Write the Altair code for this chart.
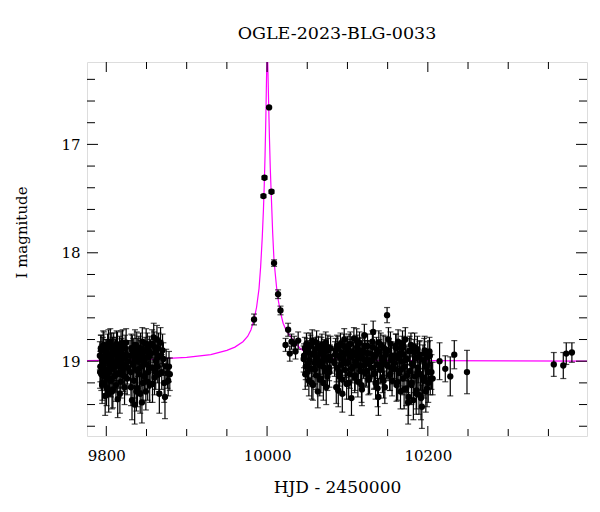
import altair as alt
import pandas as pd

FONT = "DejaVu Serif"

# ---------------- photometry ----------------
# season 2023a baseline
s1_t = [9792.0, 9792.6, 9793.2, 9793.8, 9794.5, 9795.1, 9795.8, 9796.4, 9797.0, 9797.7,
        9798.3, 9799.0, 9799.6, 9800.3, 9801.0, 9801.7, 9802.4, 9803.0, 9803.7, 9804.4,
        9805.0, 9805.7, 9806.4, 9807.1, 9807.8, 9808.5, 9809.2, 9809.9, 9810.6, 9811.3,
        9812.0, 9812.8, 9813.5, 9814.2, 9815.0, 9815.7, 9816.5, 9817.2, 9818.0, 9818.8,
        9819.5, 9820.3, 9821.1, 9821.9, 9822.7, 9823.5, 9824.3, 9825.1, 9825.9, 9826.7,
        9829.5, 9830.3, 9831.1, 9832.0, 9832.8, 9833.6, 9834.5, 9835.3, 9836.2, 9837.0,
        9837.9, 9838.8, 9839.6, 9840.5, 9841.3, 9842.2, 9843.0, 9843.9, 9844.8, 9845.7,
        9846.5, 9847.4, 9848.3, 9849.2, 9850.0, 9851.0, 9852.0, 9853.0, 9854.0, 9855.0,
        9857.0, 9858.0, 9859.0, 9860.0, 9861.0, 9862.0, 9863.0, 9864.0, 9865.0, 9866.0,
        9867.0, 9869.0, 9871.0, 9873.0, 9876.0, 9877.0, 9878.0]
s1_m = [18.95, 19.05, 18.88, 19.12, 18.98, 19.20, 18.90, 19.02, 18.85, 19.08,
        18.97, 19.15, 18.92, 19.25, 19.00, 18.87, 19.10, 19.30, 18.95, 19.05,
        18.82, 19.18, 18.99, 19.28, 18.90, 19.07, 18.86, 19.14, 19.02, 18.93,
        19.22, 18.84, 19.04, 19.35, 18.96, 19.11, 18.89, 19.01, 19.19, 18.91,
        19.06, 18.83, 19.13, 18.97, 19.24, 18.88, 19.03, 18.94, 19.16, 19.00,
        18.95, 19.10, 18.88, 19.36, 19.02, 18.92, 19.18, 19.40, 18.97, 19.08,
        18.86, 19.25, 19.00, 18.90, 19.12, 19.30, 18.95, 19.05, 18.82, 19.20,
        18.99, 19.14, 18.91, 19.28, 19.03, 18.87, 19.10, 18.96, 19.22, 18.93,
        18.84, 19.06, 18.78, 19.15, 18.92, 19.00, 18.80, 19.05, 18.88, 19.30,
        18.95, 19.10, 18.98, 19.33, 19.11, 19.18, 19.05]
s1_e = [0.13, 0.14, 0.12, 0.15, 0.13, 0.16, 0.12, 0.13, 0.12, 0.14,
        0.13, 0.15, 0.12, 0.16, 0.13, 0.12, 0.14, 0.17, 0.13, 0.14,
        0.12, 0.15, 0.13, 0.16, 0.12, 0.14, 0.12, 0.15, 0.13, 0.13,
        0.15, 0.12, 0.14, 0.17, 0.13, 0.14, 0.12, 0.13, 0.15, 0.12,
        0.14, 0.12, 0.15, 0.13, 0.16, 0.12, 0.13, 0.13, 0.15, 0.13,
        0.14, 0.15, 0.13, 0.18, 0.14, 0.13, 0.16, 0.18, 0.14, 0.15,
        0.13, 0.17, 0.14, 0.13, 0.15, 0.18, 0.14, 0.15, 0.13, 0.16,
        0.14, 0.15, 0.13, 0.17, 0.14, 0.13, 0.15, 0.14, 0.16, 0.13,
        0.13, 0.15, 0.13, 0.16, 0.14, 0.15, 0.13, 0.15, 0.14, 0.18,
        0.14, 0.16, 0.15, 0.20, 0.14, 0.14, 0.14]
s1b_t = [9792.3, 9793.5, 9794.8, 9796.1, 9797.4, 9798.6, 9799.9, 9801.3, 9802.7, 9804.1,
         9805.4, 9806.8, 9808.2, 9809.6, 9810.9, 9812.4, 9813.9, 9815.3, 9816.9, 9818.4,
         9819.9, 9821.5, 9823.1, 9824.7, 9826.3, 9830.7, 9832.4, 9834.0, 9835.7, 9837.4,
         9839.2, 9840.9, 9842.6, 9844.3, 9846.1, 9847.9, 9849.6, 9851.5, 9853.5, 9855.5,
         9857.5, 9859.5, 9861.5, 9863.5, 9865.5, 9867.5, 9870.0, 9872.0, 9874.5, 9879.0]
s1b_m = [19.10, 18.90, 19.22, 18.86, 19.00, 19.32, 18.94, 19.08, 18.84, 19.16,
         18.96, 18.88, 19.26, 19.03, 18.92, 19.12, 18.87, 18.99, 19.30, 18.85,
         19.09, 18.95, 19.14, 18.83, 19.06, 19.24, 18.90, 19.04, 18.85, 19.28,
         18.93, 19.07, 18.88, 19.38, 18.96, 19.02, 18.84, 19.19, 18.91, 19.06,
         19.21, 18.87, 19.10, 18.97, 19.12, 18.83, 18.90, 19.20, 19.05, 19.12]
s1b_e = [0.15, 0.14, 0.17, 0.14, 0.15, 0.18, 0.14, 0.15, 0.13, 0.16,
         0.15, 0.14, 0.17, 0.15, 0.14, 0.16, 0.14, 0.15, 0.18, 0.13,
         0.15, 0.14, 0.16, 0.13, 0.15, 0.17, 0.14, 0.15, 0.14, 0.18,
         0.14, 0.16, 0.14, 0.19, 0.15, 0.15, 0.14, 0.17, 0.14, 0.15,
         0.17, 0.14, 0.16, 0.15, 0.16, 0.14, 0.15, 0.18, 0.16, 0.15]

# event peak and decline
pk_t = [9983.8, 9995.5, 9996.8, 10002.5, 10005.5, 10008.7, 10013.7, 10016.7, 10023.0,
        10026.2, 10028.3, 10030.4, 10033.7, 10035.4, 10038.7]
pk_m = [18.615, 17.477, 17.308, 16.659, 17.437, 18.095, 18.382, 18.532, 18.85,
        18.71, 18.93, 18.82, 18.84, 18.91, 18.81]
pk_e = [0.05, 0.015, 0.015, 0.01, 0.015, 0.03, 0.04, 0.04, 0.06,
        0.06, 0.07, 0.07, 0.07, 0.07, 0.08]

# season 2023b baseline
s2_t = [10046.0, 10047.0, 10048.1, 10049.0, 10050.2, 10051.1, 10052.0, 10053.2, 10054.1, 10055.0,
        10056.2, 10057.1, 10058.0, 10059.2, 10060.1, 10061.0, 10062.2, 10063.1, 10064.0, 10065.2,
        10066.1, 10067.0, 10068.2, 10069.1, 10070.0, 10071.2, 10072.1, 10073.0, 10074.2, 10075.1,
        10076.0, 10077.2, 10078.1, 10079.0,
        10084.0, 10085.2, 10086.1, 10087.0, 10088.6, 10089.5, 10090.4, 10091.3, 10092.2, 10093.1,
        10094.0, 10095.0, 10096.0, 10097.0, 10098.0, 10099.0, 10100.0, 10101.0, 10102.0, 10103.0,
        10104.0, 10105.0, 10106.0, 10107.0, 10108.0, 10109.0, 10110.0, 10111.0, 10112.0, 10113.0,
        10114.0, 10115.0, 10116.0, 10117.0, 10118.0, 10119.0, 10120.0, 10121.0, 10122.0, 10123.0,
        10124.0, 10125.0, 10126.0, 10127.0,
        10129.0, 10130.0, 10131.0, 10132.0, 10133.0, 10134.0, 10135.0, 10136.0, 10137.0, 10138.5,
        10139.5, 10140.5, 10141.5, 10142.5, 10143.5, 10144.5, 10145.5, 10146.5, 10147.5, 10149.3,
        10150.5, 10151.5, 10152.5, 10153.5, 10154.5, 10155.5,
        10158.0, 10159.0, 10160.0, 10161.0, 10162.0, 10163.0, 10164.0, 10165.0, 10166.0, 10167.0,
        10168.0, 10169.0, 10170.0, 10171.0, 10172.0, 10173.0, 10174.0, 10176.0, 10177.0, 10178.0,
        10179.0, 10180.0, 10181.0, 10182.0, 10183.0, 10184.0, 10185.0, 10186.0, 10187.0, 10188.0,
        10189.0, 10190.0, 10191.0, 10192.6, 10194.0, 10195.0, 10196.0, 10197.0, 10199.0, 10200.0,
        10201.0, 10202.0, 10203.0, 10206.0,
        10214.6, 10221.7, 10227.9, 10232.9, 10248.7]
s2_m = [18.95, 18.88, 19.05, 18.84, 19.10, 18.92, 19.18, 18.99, 18.86, 19.07,
        18.81, 19.22, 18.94, 19.02, 18.89, 19.13, 18.97, 19.28, 18.87, 19.04,
        18.93, 19.16, 18.85, 19.00, 19.20, 18.91, 19.09, 18.83, 18.98, 19.14,
        18.90, 19.06, 18.96, 18.88,
        19.02, 18.90, 19.24, 18.86, 19.27, 18.95, 19.10, 18.84, 19.03, 18.92,
        19.17, 18.98, 18.80, 19.08, 18.93, 19.21, 18.88, 19.01, 18.85, 19.12,
        18.96, 19.34, 18.91, 19.05, 18.79, 19.15, 18.94, 19.00, 18.87, 19.19,
        18.97, 18.83, 19.09, 18.95, 19.26, 18.90, 19.04, 18.76, 19.11, 18.92,
        19.02, 18.86, 19.17, 18.99,
        18.93, 19.06, 18.82, 18.73, 19.12, 18.96, 19.20, 18.89, 19.03, 19.33,
        18.91, 19.08, 18.85, 18.98, 19.15, 18.87, 19.01, 19.24, 18.94, 18.575,
        19.05, 18.90, 19.13, 18.84, 18.99, 19.18,
        18.95, 19.07, 18.86, 19.22, 18.97, 18.82, 19.11, 18.93, 19.28, 19.00,
        18.88, 19.16, 18.94, 19.05, 18.80, 19.25, 18.98, 19.33, 18.91, 19.09,
        18.85, 19.20, 19.02, 19.36, 18.92, 19.14, 18.97, 19.27, 18.89, 19.06,
        19.31, 18.94, 19.12, 19.42, 18.99, 19.18, 18.90, 19.05, 19.25, 18.96,
        19.10, 18.91, 19.16, 19.16,
        19.00, 19.07, 19.14, 18.94, 19.10]
s2_e = [0.11, 0.10, 0.12, 0.10, 0.13, 0.11, 0.14, 0.12, 0.10, 0.12,
        0.10, 0.14, 0.11, 0.12, 0.11, 0.13, 0.11, 0.15, 0.10, 0.12,
        0.11, 0.13, 0.10, 0.12, 0.16, 0.11, 0.13, 0.10, 0.12, 0.13,
        0.11, 0.12, 0.11, 0.11,
        0.12, 0.11, 0.15, 0.10, 0.15, 0.11, 0.13, 0.10, 0.12, 0.11,
        0.14, 0.12, 0.10, 0.13, 0.11, 0.14, 0.11, 0.12, 0.10, 0.13,
        0.11, 0.16, 0.11, 0.12, 0.10, 0.14, 0.11, 0.12, 0.11, 0.14,
        0.12, 0.10, 0.13, 0.11, 0.15, 0.11, 0.12, 0.10, 0.13, 0.11,
        0.12, 0.11, 0.14, 0.12,
        0.11, 0.13, 0.10, 0.10, 0.14, 0.12, 0.15, 0.11, 0.13, 0.17,
        0.11, 0.13, 0.11, 0.12, 0.14, 0.11, 0.12, 0.15, 0.11, 0.07,
        0.13, 0.11, 0.14, 0.11, 0.12, 0.14,
        0.12, 0.13, 0.11, 0.15, 0.12, 0.11, 0.14, 0.12, 0.16, 0.13,
        0.11, 0.15, 0.12, 0.13, 0.11, 0.16, 0.12, 0.17, 0.12, 0.14,
        0.11, 0.16, 0.13, 0.18, 0.12, 0.15, 0.13, 0.17, 0.12, 0.14,
        0.18, 0.13, 0.15, 0.20, 0.14, 0.16, 0.13, 0.15, 0.17, 0.14,
        0.15, 0.13, 0.15, 0.15,
        0.17, 0.12, 0.18, 0.13, 0.20]
s2b_t = [10045.5, 10047.5, 10049.5, 10051.5, 10053.6, 10055.6, 10057.6, 10059.6, 10061.6, 10063.6,
         10065.6, 10067.6, 10069.6, 10071.6, 10073.6, 10075.6, 10077.6, 10079.5,
         10084.6, 10086.6, 10088.0, 10090.0, 10091.8, 10093.6, 10095.5, 10097.5, 10099.5, 10101.5,
         10103.5, 10105.5, 10107.5, 10109.5, 10111.5, 10113.5, 10115.5, 10117.5, 10119.5, 10121.5,
         10123.5, 10125.5, 10127.5,
         10129.5, 10131.5, 10133.5, 10135.5, 10137.5, 10139.0, 10141.0, 10143.0, 10145.0, 10147.0,
         10148.5, 10151.0, 10153.0, 10155.0, 10156.5,
         10158.5, 10160.5, 10162.5, 10164.5, 10166.5, 10168.5, 10170.5, 10172.5, 10174.5, 10175.5,
         10177.5, 10179.5, 10181.5, 10183.5, 10185.5, 10187.5, 10189.5, 10191.5, 10193.5, 10195.5,
         10197.5, 10198.5, 10200.5, 10202.5, 10204.5]
s2b_m = [18.98, 19.12, 18.90, 19.02, 18.85, 19.20, 18.93, 19.08, 18.83, 19.00,
         19.17, 18.89, 19.05, 18.96, 19.24, 18.87, 19.10, 18.99,
         18.94, 19.06, 18.88, 19.14, 18.97, 19.30, 18.86, 19.02, 18.92, 19.20,
         18.84, 19.07, 18.95, 19.13, 18.81, 19.04, 18.90, 19.22, 18.98, 18.86,
         19.09, 18.93, 19.15,
         19.00, 18.87, 19.11, 18.94, 19.25, 18.83, 19.06, 18.97, 19.18, 18.89,
         19.03, 18.80, 19.12, 18.95, 19.07,
         19.02, 18.88, 19.19, 18.94, 19.08, 18.84, 19.26, 18.99, 19.13, 19.38,
         18.90, 19.22, 19.04, 18.87, 19.30, 19.10, 18.96, 19.34, 19.15, 18.93,
         19.28, 19.05, 19.20, 18.95, 19.10]
s2b_e = [0.12, 0.14, 0.11, 0.13, 0.11, 0.15, 0.12, 0.13, 0.11, 0.12,
         0.15, 0.11, 0.13, 0.12, 0.16, 0.11, 0.14, 0.12,
         0.12, 0.13, 0.11, 0.15, 0.12, 0.17, 0.11, 0.13, 0.12, 0.15,
         0.11, 0.13, 0.12, 0.14, 0.11, 0.13, 0.12, 0.16, 0.12, 0.11,
         0.14, 0.12, 0.15,
         0.13, 0.12, 0.14, 0.12, 0.17, 0.11, 0.14, 0.13, 0.16, 0.12,
         0.13, 0.11, 0.15, 0.13, 0.14,
         0.14, 0.13, 0.17, 0.13, 0.15, 0.12, 0.18, 0.14, 0.16, 0.20,
         0.13, 0.18, 0.15, 0.13, 0.19, 0.16, 0.14, 0.20, 0.17, 0.14,
         0.19, 0.15, 0.18, 0.14, 0.16]

# 2024 points
late_t = [10356.7, 10368.5, 10372.2, 10379.2]
late_m = [19.03, 19.04, 18.93, 18.92]
late_e = [0.11, 0.12, 0.10, 0.09]

# model light curve
mod_t = [9776, 9820, 9860, 9900, 9930, 9950, 9960, 9970, 9976, 9980, 9984, 9987, 9990,
         9992, 9994, 9995.5, 9996.5, 9997.5, 9998.5, 9999.3, 10000.3, 10001.3, 10002.2,
         10003, 10004, 10005, 10006, 10007, 10008.5, 10010, 10012, 10014, 10016, 10018,
         10020, 10024, 10028, 10035, 10041, 10050, 10060, 10080, 10120, 10200, 10399]
mod_m = [18.995, 18.99, 18.98, 18.965, 18.94, 18.90, 18.87, 18.82, 18.77, 18.71, 18.61,
         18.50, 18.33, 18.13, 17.86, 17.60, 17.38, 17.10, 16.75, 16.40, 16.05, 16.40, 16.70,
         16.95, 17.22, 17.42, 17.62, 17.82, 18.05, 18.18, 18.33, 18.44, 18.52, 18.59,
         18.65, 18.72, 18.76, 18.83, 18.88, 18.93, 18.95, 18.975, 18.99, 18.995, 19.0]

# axis ticks
x_major = [9800, 10000, 10200]
x_minor = [9850, 9900, 9950, 10050, 10100, 10150, 10250, 10300, 10350]
y_major = [17, 18, 19]
y_minor = [16.4, 16.6, 16.8, 17.2, 17.4, 17.6, 17.8, 18.2, 18.4, 18.6, 18.8,
           19.2, 19.4, 19.6]

# ---------------- chart ----------------
W, H = 500, 374
t_all = s1_t + s1b_t + pk_t + s2_t + s2b_t + late_t
m_all = s1_m + s1b_m + pk_m + s2_m + s2b_m + late_m
e_all = s1_e + s1b_e + pk_e + s2_e + s2b_e + late_e
df = pd.DataFrame({"t": t_all, "m": m_all, "e": e_all})
df["lo"] = df["m"] - df["e"]
df["hi"] = df["m"] + df["e"]
model = pd.DataFrame({"t": mod_t, "m": mod_m})

xs = alt.Scale(domain=[9776, 10398], nice=False, zero=False)
ys = alt.Scale(domain=[16.24, 19.69], nice=False, zero=False, reverse=True)

xaxis = alt.Axis(values=x_major, format="d", ticks=False, tickSize=0, domain=False,
                 grid=False, labelFont=FONT, labelFontSize=15, labelColor="black",
                 labelPadding=12, labelFlush=False, title="HJD - 2450000",
                 titleFont=FONT, titleFontSize=17, titleFontWeight="normal",
                 titleColor="black", titleX=W / 2, titleY=51, titleBaseline="middle",
                 titleAlign="center")
yaxis = alt.Axis(values=y_major, format="d", ticks=False, tickSize=0, domain=False,
                 grid=False, labelFont=FONT, labelFontSize=15, labelColor="black",
                 labelPadding=7, labelFlush=False, title="I magnitude",
                 titleFont=FONT, titleFontSize=15, titleFontWeight="normal",
                 titleColor="black", titleX=-66, titleY=170, titleAngle=270,
                 titleBaseline="middle", titleAlign="center")


def X(f):
    return alt.X(f, scale=xs, axis=xaxis)


def Y(f):
    return alt.Y(f, scale=ys, axis=yaxis)


EB = "#000000"
base = alt.Chart(df)
bars = base.mark_rule(color=EB, strokeWidth=1.2, clip=True).encode(
    x=X("t:Q"), y=Y("lo:Q"), y2="hi:Q")
cap_lo = base.mark_tick(orient="horizontal", size=6, thickness=1.2, color=EB,
                        clip=True).encode(x=X("t:Q"), y=Y("lo:Q"))
cap_hi = base.mark_tick(orient="horizontal", size=6, thickness=1.2, color=EB,
                        clip=True).encode(x=X("t:Q"), y=Y("hi:Q"))
pts = base.mark_circle(size=40, color="black", opacity=1, clip=True).encode(
    x=X("t:Q"), y=Y("m:Q"))
line = alt.Chart(model).mark_line(color="#ff00ff", strokeWidth=1.2, clip=True).encode(
    x=X("t:Q"), y=Y("m:Q"), order="t:Q")

# inward ticks on all four sides
xmaj = pd.DataFrame({"v": x_major})
xmin = pd.DataFrame({"v": x_minor})
ymaj = pd.DataFrame({"v": y_major})
ymin = pd.DataFrame({"v": y_minor})
tk = dict(color="black", strokeWidth=1)
ticks = []
for d, L in ((xmaj, 10), (xmin, 7)):
    ticks.append(alt.Chart(d).mark_rule(**tk).encode(
        x=X("v:Q"), y=alt.value(H), y2=alt.value(H - L)))
    ticks.append(alt.Chart(d).mark_rule(**tk).encode(
        x=X("v:Q"), y=alt.value(0), y2=alt.value(L)))
for d, L in ((ymaj, 11), (ymin, 8)):
    ticks.append(alt.Chart(d).mark_rule(**tk).encode(
        y=Y("v:Q"), x=alt.value(0), x2=alt.value(L)))
    ticks.append(alt.Chart(d).mark_rule(**tk).encode(
        y=Y("v:Q"), x=alt.value(W), x2=alt.value(W - L)))

chart = alt.layer(line, bars, cap_lo, cap_hi, pts, *ticks).properties(
    width=W, height=H,
    title=alt.Title("OGLE-2023-BLG-0033", font=FONT, fontSize=17.5, fontWeight="normal",
                    color="black", offset=19, anchor="middle"),
    autosize=alt.AutoSizeParams(type="none"),
    padding={"left": 79, "top": 54, "right": 5, "bottom": 68},
).configure_view(stroke="black", strokeWidth=1).configure(background="white")

chart.save("out.html", embed_options={"renderer": "svg", "actions": False})
